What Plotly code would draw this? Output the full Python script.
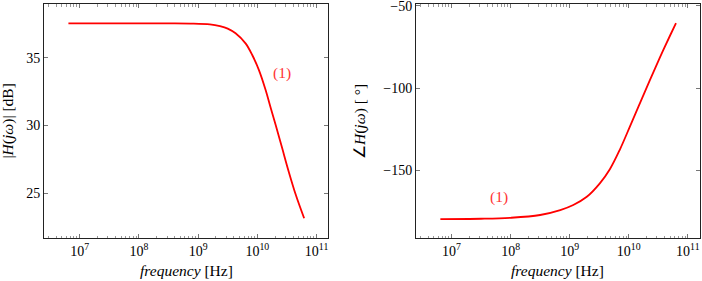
import plotly.graph_objects as go

# Magnitude curve: frequency [Hz] and |H| [dB]
mag_freq = [6.46e6, 3.16e7, 1e8, 3.16e8, 7.41e8, 1.58e9, 2.34e9, 3.16e9, 4.29e9, 6.32e9,
            8.2e9, 1.064e10, 1.38e10, 1.66e10, 2.04e10, 2.63e10, 3.39e10, 4.47e10, 6.17e10]
mag_db = [37.53, 37.53, 37.53, 37.53, 37.52, 37.46, 37.33, 37.15, 36.8, 36.06,
          35.2, 34.09, 32.62, 31.39, 30.04, 28.32, 26.6, 24.88, 23.17]

# Phase curve: frequency [Hz] and angle [deg]
ph_freq = [6.46e6, 3.16e7, 1e8, 3.16e8, 6.92e8, 1.15e9, 1.95e9, 3.24e9, 4.79e9,
           7.08e9, 1.05e10, 1.55e10, 2.29e10, 3.39e10, 5.01e10, 6.31e10]
ph_deg = [-179.9, -179.7, -179.1, -177.4, -174.4, -171.3, -166.3, -158.1, -149.5,
          -137.5, -123.4, -109.2, -95.0, -81.2, -68.0, -60.4]

x_tickvals = [1e7, 1e8, 1e9, 1e10, 1e11]
x_ticktext = ["10<sup>7</sup>", "10<sup>8</sup>", "10<sup>9</sup>", "10<sup>10</sup>", "10<sup>11</sup>"]
mag_ticks = [25, 30, 35]
ph_ticks = [-150, -100, -50]
ph_ticktext = ["−150", "−100", "−50"]

RED = "#ff0000"
FONT = "Liberation Serif"
FS = 14
FT = 15.5

W, H = 702, 281

fig = go.Figure()
fig.add_trace(go.Scatter(x=mag_freq, y=mag_db, mode="lines",
                         line=dict(color=RED, width=1.8, shape="spline", smoothing=1.0),
                         xaxis="x", yaxis="y", showlegend=False, hoverinfo="skip"))
fig.add_trace(go.Scatter(x=ph_freq, y=ph_deg, mode="lines",
                         line=dict(color=RED, width=1.8, shape="spline", smoothing=1.0),
                         xaxis="x2", yaxis="y2", showlegend=False, hoverinfo="skip"))

def dom(a, b):
    return [a / W, b / W]

def px_y(y):
    return 1 - y / H

xr = [6.398, 11.198]
common_x = dict(type="log", range=xr, tickvals=x_tickvals, ticktext=x_ticktext,
                ticks="inside", ticklen=4, tickwidth=1, tickcolor="#777",
                showline=True, linecolor="#222", linewidth=1, mirror="ticks",
                showgrid=False, zeroline=False, ticklabeloverflow="allow",
                tickfont=dict(family=FONT, size=FS, color="black"),
                minor=dict(ticks="inside", ticklen=2.5, tickwidth=1, tickcolor="#999",
                           dtick="D1", showgrid=False))
common_y = dict(ticks="inside", ticklen=4, tickwidth=1, tickcolor="#777",
                showline=True, linecolor="#222", linewidth=1, mirror="ticks",
                showgrid=False, zeroline=False, ticklabeloverflow="allow",
                tickfont=dict(family=FONT, size=FS, color="black"))

ydom = [px_y(238.3), px_y(4)]
fig.update_layout(
    width=W, height=H, margin=dict(l=0, r=0, t=0, b=0, autoexpand=False),
    paper_bgcolor="white", plot_bgcolor="white",
    font=dict(family=FONT, size=FS, color="black"),
    xaxis=dict(domain=dom(44, 328.3), anchor="y", **common_x),
    yaxis=dict(domain=ydom, anchor="x", range=[21.69, 38.96], tickvals=mag_ticks, **common_y),
    xaxis2=dict(domain=dom(416, 699.5), anchor="y2", **common_x),
    yaxis2=dict(domain=ydom, anchor="x2", range=[-191.6, -48.8], tickvals=ph_ticks,
                ticktext=ph_ticktext, **common_y),
    annotations=[
        dict(x=186 / W, y=px_y(270), xref="paper", yref="paper", text="<i>frequency</i> [Hz]",
             showarrow=False, xanchor="center", yanchor="middle", font=dict(family=FONT, size=FT)),
        dict(x=557.7 / W, y=px_y(270), xref="paper", yref="paper", text="<i>frequency</i> [Hz]",
             showarrow=False, xanchor="center", yanchor="middle", font=dict(family=FONT, size=FT)),
        dict(x=7.5 / W, y=px_y(121), xref="paper", yref="paper", text="|<i>H</i>(<i>jω</i>)| [dB]",
             showarrow=False, xanchor="center", yanchor="middle", textangle=-90,
             font=dict(family=FONT, size=FT)),
        dict(x=360 / W, y=px_y(121), xref="paper", yref="paper", text="∠<i>H</i>(<i>jω</i>) [ °]",
             showarrow=False, xanchor="center", yanchor="middle", textangle=-90,
             font=dict(family=FONT, size=FT)),
        dict(x=281.7 / W, y=px_y(73.3), xref="paper", yref="paper", text="(1)", showarrow=False,
             xanchor="center", yanchor="middle", font=dict(family=FONT, size=FT, color="#ff3333")),
        dict(x=498.7 / W, y=px_y(197.3), xref="paper", yref="paper", text="(1)", showarrow=False,
             xanchor="center", yanchor="middle", font=dict(family=FONT, size=FT, color="#ff3333")),
    ],
)

fig.write_html("out.html")
